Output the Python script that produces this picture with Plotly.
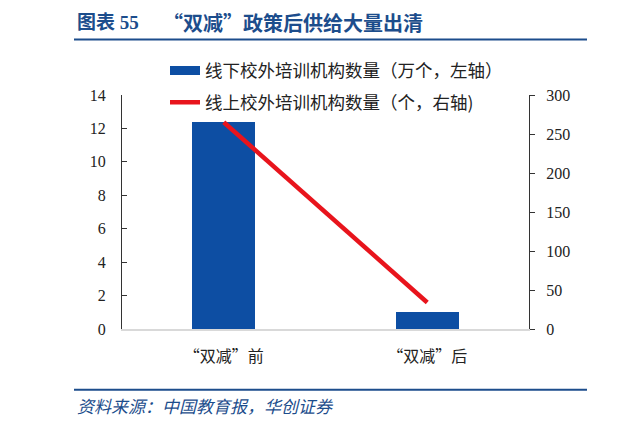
import plotly.graph_objects as go

categories = ["“双减”前", "“双减”后"]
offline_wan = [12.4, 1.0]       # 线下校外培训机构数量（万个，左轴）
online_count = [265, 34]        # 线上校外培训机构数量（个，右轴）
left_ticks = [0, 2, 4, 6, 8, 10, 12, 14]
right_ticks = [0, 50, 100, 150, 200, 250, 300]

BLUE = "#0d4ea3"
RED = "#e8141c"
TITLE_BLUE = "#1c4d8c"

OFF = 8  # page body margin in the browser
W, H = 620 - OFF, 421 - OFF
L, R, T, B = 122 - OFF, 529 - OFF, 94.5 - OFF, 329 - OFF
pw, ph = R - L, B - T

def px(x):
    return (x - OFF - L) / pw

def py(y):
    return (B - (y - OFF)) / ph

CJK = "Noto Sans CJK SC"
SERIF = "Liberation Serif, Noto Sans CJK SC"

fig = go.Figure()
fig.add_trace(go.Bar(x=categories, y=offline_wan, marker=dict(color=BLUE, line=dict(width=0)),
                     width=0.31, showlegend=False, yaxis="y"))
fig.add_trace(go.Scatter(x=categories, y=online_count, mode="lines",
                         line=dict(color=RED, width=4.5), showlegend=False, yaxis="y2"))
# legend entries
fig.add_trace(go.Scatter(x=[None], y=[None], mode="lines", name="线下校外培训机构数量（万个，左轴）",
                         line=dict(color=BLUE, width=9), legend="legend"))
fig.add_trace(go.Scatter(x=[None], y=[None], mode="lines", name="线上校外培训机构数量（个，右轴)",
                         line=dict(color=RED, width=4.5), legend="legend2", yaxis="y2"))

fig.update_layout(
    width=W, height=H,
    margin=dict(l=L, r=W - R, t=T, b=H - B, pad=0),
    paper_bgcolor="white", plot_bgcolor="white",
    showlegend=True,
    bargap=0,
    xaxis=dict(type="category", showline=True, linecolor="#d9d9d9", linewidth=2,
               ticks="", showgrid=False, zeroline=False,
               tickfont=dict(family=CJK, size=16, color="#222222"), ticklabelstandoff=12),
    yaxis=dict(range=[0, 14], tickvals=left_ticks, showline=True, linecolor="#333333", linewidth=1.3,
               ticks="inside", ticklen=5, tickcolor="#333333", showgrid=False, zeroline=False,
               tickfont=dict(family=SERIF, size=16, color="#222222"), ticklabelstandoff=12),
    yaxis2=dict(range=[0, 300], tickvals=right_ticks, overlaying="y", side="right",
                showline=True, linecolor="#333333", linewidth=1.3,
                ticks="outside", ticklen=5, tickcolor="#333333", showgrid=False, zeroline=False,
                tickfont=dict(family=SERIF, size=16, color="#222222"), ticklabelstandoff=8),
    legend=dict(x=px(165), y=py(70), xanchor="left", yanchor="middle", bgcolor="rgba(0,0,0,0)",
                font=dict(family=CJK, size=17.5, color="#222222"), itemwidth=30),
    legend2=dict(x=px(165), y=py(102), xanchor="left", yanchor="middle", bgcolor="rgba(0,0,0,0)",
                 font=dict(family=CJK, size=17.5, color="#222222"), itemwidth=30),
)

fig.add_annotation(text="<b>图表 55</b>", x=px(75), y=py(22), xref="paper", yref="paper",
                   xanchor="left", yanchor="middle", showarrow=False,
                   font=dict(family=SERIF, size=19, color=TITLE_BLUE))
fig.add_annotation(text="<b>“双减”政策后供给大量出清</b>", x=px(161), y=py(22), xref="paper", yref="paper",
                   xanchor="left", yanchor="middle", showarrow=False,
                   font=dict(family=CJK, size=20, color=TITLE_BLUE))
fig.add_annotation(text="资料来源：中国教育报，华创证券", x=px(75), y=py(406), xref="paper", yref="paper",
                   xanchor="left", yanchor="middle", showarrow=False,
                   font=dict(family=CJK, size=17, color=TITLE_BLUE, style="italic"))

for yy in (39, 390):
    fig.add_shape(type="line", xref="paper", yref="paper", x0=px(74), x1=px(587), y0=py(yy), y1=py(yy),
                  line=dict(color=TITLE_BLUE, width=2))
    fig.add_shape(type="line", xref="paper", yref="paper", x0=px(614), x1=px(622), y0=py(yy), y1=py(yy),
                  line=dict(color=TITLE_BLUE, width=2))

fig.write_html("out.html")
